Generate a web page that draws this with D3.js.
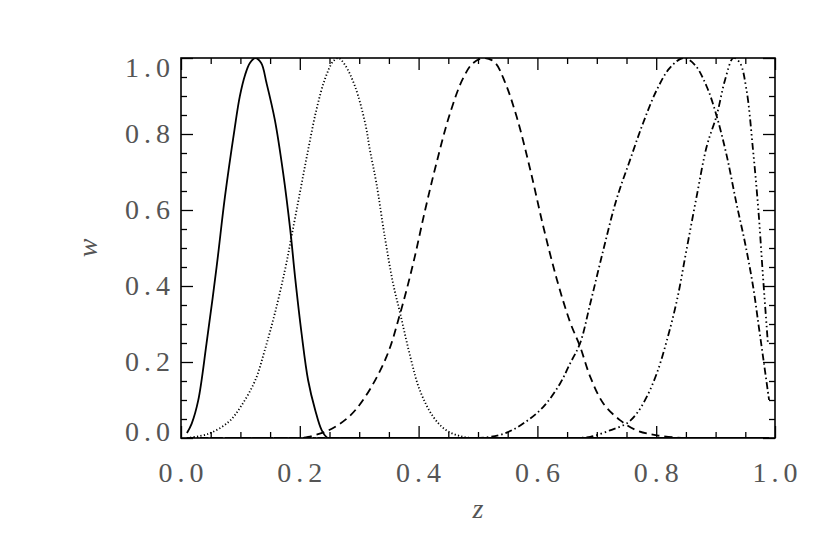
<!DOCTYPE html>
<html>
<head>
<meta charset="utf-8">
<script src="https://cdn.jsdelivr.net/npm/d3@7"></script>
<style>
    body { margin: 0; background: #fff; }
    text { font-family: "Liberation Serif", serif; }
</style>
</head>
<body>
<div id="container"></div>
<script>

// values, one (z, w) pair per point
const zSolid = [0.010, 0.018, 0.029, 0.043, 0.060, 0.074, 0.090, 0.099, 0.108, 0.116, 0.125, 0.135, 0.144, 0.158, 0.172, 0.184, 0.192, 0.203, 0.214, 0.226, 0.237, 0.247, 0.270, 0.300, 0.990]
const wSolid = [0.013, 0.038, 0.099, 0.249, 0.451, 0.635, 0.811, 0.899, 0.956, 0.987, 1.000, 0.987, 0.934, 0.837, 0.697, 0.547, 0.424, 0.275, 0.152, 0.073, 0.020, 0.000, 0.000, 0.000, 0.000]

const zDotted = [0.010, 0.046, 0.080, 0.102, 0.125, 0.141, 0.158, 0.175, 0.186, 0.200, 0.214, 0.228, 0.242, 0.256, 0.265, 0.276, 0.293, 0.310, 0.318, 0.329, 0.343, 0.357, 0.369, 0.386, 0.402, 0.425, 0.447, 0.475, 0.500, 0.530, 0.990]
const wDotted = [0.000, 0.011, 0.042, 0.086, 0.152, 0.231, 0.328, 0.442, 0.530, 0.644, 0.758, 0.864, 0.943, 0.991, 1.000, 0.982, 0.925, 0.829, 0.758, 0.670, 0.530, 0.407, 0.328, 0.214, 0.126, 0.055, 0.020, 0.003, 0.000, 0.000, 0.000]

const zDashed = [0.010, 0.170, 0.200, 0.214, 0.248, 0.282, 0.310, 0.346, 0.369, 0.391, 0.411, 0.430, 0.453, 0.475, 0.492, 0.512, 0.529, 0.545, 0.565, 0.588, 0.610, 0.633, 0.655, 0.672, 0.689, 0.711, 0.739, 0.767, 0.801, 0.850, 0.880, 0.990]
const wDashed = [0.000, 0.000, 0.000, 0.003, 0.020, 0.055, 0.108, 0.214, 0.328, 0.460, 0.600, 0.723, 0.855, 0.947, 0.987, 1.000, 0.987, 0.938, 0.846, 0.706, 0.556, 0.416, 0.305, 0.240, 0.161, 0.091, 0.047, 0.020, 0.007, 0.000, 0.000, 0.000]

const zDashDot = [0.010, 0.470, 0.503, 0.543, 0.576, 0.610, 0.638, 0.655, 0.672, 0.689, 0.711, 0.733, 0.756, 0.778, 0.801, 0.823, 0.846, 0.865, 0.885, 0.902, 0.919, 0.935, 0.950, 0.963, 0.973, 0.982, 0.990]
const wDashDot = [0.000, 0.000, 0.000, 0.011, 0.038, 0.082, 0.143, 0.196, 0.250, 0.354, 0.495, 0.627, 0.732, 0.829, 0.916, 0.974, 1.000, 0.982, 0.925, 0.846, 0.741, 0.618, 0.510, 0.400, 0.290, 0.190, 0.100]

const zDashDot3 = [0.010, 0.620, 0.655, 0.689, 0.722, 0.750, 0.767, 0.784, 0.801, 0.818, 0.835, 0.851, 0.868, 0.885, 0.902, 0.916, 0.930, 0.941, 0.952, 0.963, 0.972, 0.980, 0.988]
const wDashDot3 = [0.000, 0.000, 0.000, 0.003, 0.020, 0.038, 0.064, 0.108, 0.170, 0.257, 0.363, 0.495, 0.635, 0.767, 0.850, 0.943, 1.000, 0.987, 0.916, 0.758, 0.600, 0.420, 0.250]

const majorTicks = [0.0, 0.2, 0.4, 0.6, 0.8, 1.0]
const minorTicks = d3.range(0, 21).map(i => i / 20)

const xTitle = "z"
const yTitle = "w"

function drawChart() {

    // CONSTRUCT GRAPH CONTAINER
    const margin = { top: 58, right: 55, bottom: 116, left: 181 };
    const width = 830 - margin.left - margin.right;
    const height = 554 - margin.top - margin.bottom;

    let root = d3
        .select("#container")
        .append("svg")
        .attr("width", 830)
        .attr("height", 554);

    root.append("rect").attr("width", 830).attr("height", 554).attr("fill", "#fff");

    let svg = root
        .append("g")
        .attr("transform", "translate(" + margin.left + "," + margin.top + ")");

    svg.append("clipPath")
        .attr("id", "plot-clip")
        .append("rect")
        .attr("width", width)
        .attr("height", height);

    // SCALES
    const xScale = d3.scaleLinear().domain([0, 1]).range([0, width]);
    const yScale = d3.scaleLinear().domain([0, 1]).range([height, 0]);

    // TICKS, inward on all four sides
    function tickAxis(axis, scale, values, size, transform) {
        svg.append("g")
            .attr("transform", transform)
            .call(axis(scale).tickValues(values).tickSize(size).tickFormat(""))
            .call(g => g.select(".domain").remove())
            .call(g => g.selectAll("line").attr("stroke", "#000").attr("stroke-width", 1.3));
    }

    let minorOnly = minorTicks.filter(t => !majorTicks.some(m => Math.abs(m - t) < 1e-9));

    tickAxis(d3.axisBottom, xScale, majorTicks, -12, "translate(0," + height + ")");
    tickAxis(d3.axisBottom, xScale, minorOnly, -6, "translate(0," + height + ")");
    tickAxis(d3.axisTop, xScale, majorTicks, -12, "translate(0,0)");
    tickAxis(d3.axisTop, xScale, minorOnly, -6, "translate(0,0)");
    tickAxis(d3.axisLeft, yScale, majorTicks, -12, "translate(0,0)");
    tickAxis(d3.axisLeft, yScale, minorOnly, -6, "translate(0,0)");
    tickAxis(d3.axisRight, yScale, majorTicks, -12, "translate(" + width + ",0)");
    tickAxis(d3.axisRight, yScale, minorOnly, -6, "translate(" + width + ",0)");

    // TICK LABELS
    svg.append("g")
        .selectAll("text")
        .data(majorTicks)
        .enter()
        .append("text")
        .attr("x", d => xScale(d))
        .attr("y", height + 44)
        .attr("dx", 2.5)
        .attr("text-anchor", "middle")
        .style("font-size", "28px")
        .style("letter-spacing", "5px")
        .style("fill", "#555")
        .text(d => d.toFixed(1));

    svg.append("g")
        .selectAll("text")
        .data(majorTicks)
        .enter()
        .append("text")
        .attr("x", -6)
        .attr("y", d => Math.min(Math.max(yScale(d), 10), height - 6))
        .attr("dy", "0.33em")
        .attr("text-anchor", "end")
        .style("font-size", "28px")
        .style("letter-spacing", "5px")
        .style("fill", "#555")
        .text(d => d.toFixed(1));

    // AXIS TITLES
    svg.append("text")
        .attr("x", width / 2)
        .attr("y", height + 80)
        .attr("text-anchor", "middle")
        .style("font-size", "28px")
        .style("font-style", "italic")
        .style("fill", "#555")
        .text(xTitle);

    svg.append("text")
        .attr("transform", "translate(-84," + (height / 2) + ") rotate(-90)")
        .attr("text-anchor", "middle")
        .style("font-size", "28px")
        .style("font-style", "italic")
        .style("fill", "#555")
        .text(yTitle);

    // CURVES
    const series = [
        { z: zSolid, w: wSolid, dash: null },
        { z: zDotted, w: wDotted, dash: "1.2,2.2" },
        { z: zDashed, w: wDashed, dash: "8,5" },
        { z: zDashDot, w: wDashDot, dash: "7,3,1.5,3" },
        { z: zDashDot3, w: wDashDot3, dash: "7,3,1.5,3,1.5,3,1.5,3" }
    ];

    let line = d3
        .line()
        .x(d => xScale(d[0]))
        .y(d => yScale(d[1]))
        .curve(d3.curveCatmullRom.alpha(0.5));

    svg.append("g")
        .attr("clip-path", "url(#plot-clip)")
        .selectAll("path")
        .data(series)
        .enter()
        .append("path")
        .attr("fill", "none")
        .attr("stroke", "#000")
        .attr("stroke-width", 1.8)
        .attr("stroke-dasharray", d => d.dash)
        .attr("d", d => line(d.z.map((z, i) => [z, d.w[i]])));

    // FRAME
    svg.append("rect")
        .attr("width", width)
        .attr("height", height)
        .attr("fill", "none")
        .attr("stroke", "#000")
        .attr("stroke-width", 1.6);
}

drawChart()
</script>
</body>
</html>
